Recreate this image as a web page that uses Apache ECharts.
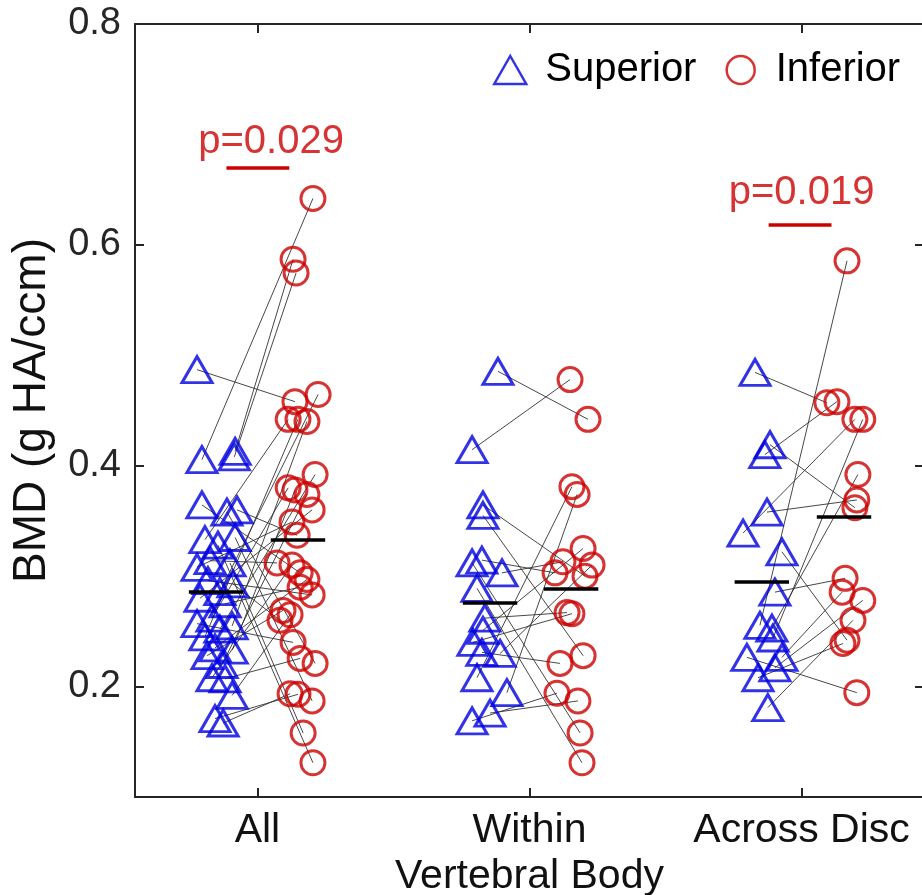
<!DOCTYPE html>
<html>
<head>
<meta charset="utf-8">
<script src="https://cdn.jsdelivr.net/npm/echarts@6/dist/echarts.min.js"></script>
<style>
  html, body { margin: 0; padding: 0; background: #fff; }
  #chart { width: 922px; height: 895px; }
</style>
</head>
<body>
<div id="chart"></div>
<script>
// category labels, group centres sit at x = 1, 2, 3
const categories = ['All', 'Within\nVertebral Body', 'Across Disc']
const yTicks = [0.2, 0.4, 0.6, 0.8]

// All: superior / inferior BMD, paired by index, with jittered x
const allSupY = [0.487, 0.413, 0.408, 0.4055, 0.3645, 0.36, 0.358, 0.335, 0.333, 0.328, 0.314, 0.312, 0.308, 0.296, 0.293, 0.286,
  0.28, 0.275, 0.262, 0.257, 0.255, 0.252, 0.245, 0.235, 0.233, 0.228, 0.22, 0.208, 0.207, 0.192, 0.171, 0.167]
const allSupX = [0.778, 0.918, 0.915, 0.796, 0.796, 0.925, 0.888, 0.918, 0.807, 0.855, 0.826, 0.899, 0.778, 0.818, 0.910, 0.862,
  0.789, 0.881, 0.833, 0.778, 0.907, 0.862, 0.807, 0.844, 0.907, 0.815, 0.870, 0.833, 0.881, 0.907, 0.844, 0.874]
const allInfY = [0.458, 0.587, 0.5745, 0.642, 0.303, 0.337, 0.221, 0.187, 0.442, 0.131, 0.312, 0.158, 0.349, 0.283, 0.26, 0.4645,
  0.36, 0.29, 0.38, 0.24, 0.44, 0.392, 0.442, 0.297, 0.378, 0.269, 0.374, 0.31, 0.2255, 0.265, 0.193, 0.1935]
const allInfX = [1.138, 1.131, 1.142, 1.204, 1.157, 1.146, 1.212, 1.201, 1.113, 1.204, 1.072, 1.168, 1.127, 1.201, 1.083, 1.223,
  1.201, 1.157, 1.113, 1.131, 1.182, 1.212, 1.149, 1.182, 1.138, 1.094, 1.182, 1.127, 1.157, 1.120, 1.149, 1.120]

// Within vertebral body
const withinSupY = [0.4855, 0.4145, 0.3645, 0.355, 0.312, 0.3145, 0.303, 0.289, 0.262, 0.251, 0.240, 0.231, 0.230, 0.208, 0.1945, 0.176, 0.169]
const withinSupX = [1.884, 1.789, 1.829, 1.829, 1.789, 1.825, 1.899, 1.807, 1.836, 1.829, 1.792, 1.825, 1.892, 1.807, 1.917, 1.855, 1.789]
const withinInfY = [0.442, 0.478, 0.300, 0.228, 0.158, 0.303, 0.313, 0.131, 0.267, 0.325, 0.266, 0.221, 0.310, 0.381, 0.374, 0.187, 0.194]
const withinInfX = [2.215, 2.149, 2.204, 2.197, 2.186, 2.094, 2.123, 2.193, 2.138, 2.197, 2.156, 2.112, 2.230, 2.156, 2.175, 2.178, 2.101]

// Across disc
const acrossSupY = [0.4845, 0.419, 0.41, 0.358, 0.339, 0.322, 0.2855, 0.2555, 0.253, 0.244, 0.2265, 0.2265, 0.217, 0.208, 0.181]
const acrossSupX = [2.829, 2.884, 2.865, 2.873, 2.785, 2.928, 2.902, 2.847, 2.891, 2.895, 2.799, 2.928, 2.902, 2.840, 2.876]
const acrossInfY = [0.457, 0.362, 0.458, 0.369, 0.442, 0.242, 0.298, 0.5855, 0.392, 0.442, 0.1945, 0.2855, 0.278, 0.239, 0.26]
const acrossInfX = [3.093, 3.196, 3.130, 3.203, 3.196, 3.167, 3.160, 3.167, 3.207, 3.225, 3.203, 3.149, 3.225, 3.152, 3.189]

// group means (black bars)
const meanSupY = [0.286, 0.2755, 0.2945]
const meanSupX = [0.848, 1.855, 2.854]
const meanInfY = [0.333, 0.289, 0.3535]
const meanInfX = [1.149, 2.153, 3.156]

// significance annotations
const pTexts = ['p=0.029', 'p=0.019']
const pTextX = [1.05, 3.0]
const pTextY = [0.693, 0.647]
const pBarX0 = [0.886, 2.879]
const pBarX1 = [1.117, 3.11]
const pBarY = [0.67, 0.618]

const BLUE = '#0000e0'
const RED = '#cc0000'
const AXIS = '#262626'
const FONT = 'Liberation Sans, Arial, Helvetica, sans-serif'

const groups = [
  [allSupX, allSupY, allInfX, allInfY],
  [withinSupX, withinSupY, withinInfX, withinInfY],
  [acrossSupX, acrossSupY, acrossInfX, acrossInfY]
]

const supPts = []
const infPts = []
const pairLines = []
groups.forEach(g => {
  g[1].forEach((v, i) => {
    supPts.push([g[0][i], v])
    infPts.push([g[2][i], g[3][i]])
    pairLines.push({ coords: [[g[0][i], v], [g[2][i], g[3][i]]] })
  })
})

const MEAN_HALF = 0.1
const meanLines = []
meanSupY.forEach((v, i) => {
  meanLines.push({ coords: [[meanSupX[i] - MEAN_HALF, v], [meanSupX[i] + MEAN_HALF, v]] })
  meanLines.push({ coords: [[meanInfX[i] - MEAN_HALF, meanInfY[i]], [meanInfX[i] + MEAN_HALF, meanInfY[i]]] })
})

const pBars = pBarY.map((y, i) => ({ coords: [[pBarX0[i], y], [pBarX1[i], y]] }))
const pLabelPts = pTexts.map((t, i) => ({ value: [pTextX[i], pTextY[i]], name: t }))

const xCommon = {
  type: 'value',
  min: 0.55,
  max: 3.45,
  splitLine: { show: false },
  axisLine: { show: true, onZero: false, lineStyle: { color: AXIS, width: 2 } },
  axisTick: { show: true, inside: true, length: 9, customValues: [1, 2, 3], lineStyle: { color: AXIS, width: 2 } }
}
const yCommon = {
  type: 'value',
  min: 0.1,
  max: 0.8,
  splitLine: { show: false },
  axisLine: { show: true, onZero: false, lineStyle: { color: AXIS, width: 2 } },
  axisTick: { show: true, inside: true, length: 9, customValues: yTicks, lineStyle: { color: AXIS, width: 2 } }
}

const chart = echarts.init(document.getElementById('chart'))
chart.setOption({
  animation: false,
  backgroundColor: '#fff',
  textStyle: { fontFamily: FONT },
  grid: { left: 135, top: 24, width: 789, bottom: 98, containLabel: false, outerBoundsMode: 'none' },
  legend: {
    data: ['Superior', 'Inferior'],
    left: 493,
    top: 50,
    padding: 0,
    itemWidth: 32,
    itemHeight: 28,
    itemGap: 29,
    itemStyle: { borderWidth: 2.5 },
    textStyle: { fontSize: 40, color: '#000', fontFamily: FONT, padding: [0, 0, 0, 14] }
  },
  xAxis: [
    Object.assign({}, xCommon, {
      position: 'bottom',
      axisLabel: {
        customValues: [1, 2, 3],
        formatter: v => categories[Math.round(v) - 1],
        fontSize: 41,
        lineHeight: 46,
        margin: 11,
        color: '#111',
        fontFamily: FONT
      }
    }),
    Object.assign({}, xCommon, { position: 'top', axisLabel: { show: false } })
  ],
  yAxis: [
    Object.assign({}, yCommon, {
      position: 'left',
      name: 'BMD (g HA/ccm)',
      nameLocation: 'middle',
      nameGap: 80,
      nameTextStyle: { fontSize: 46, color: '#111', fontFamily: FONT },
      axisLabel: {
        customValues: yTicks,
        formatter: v => v.toFixed(1),
        fontSize: 38,
        margin: 14,
        color: '#262626',
        fontFamily: FONT
      }
    }),
    Object.assign({}, yCommon, { position: 'right', axisLabel: { show: false } })
  ],
  series: [
    {
      type: 'lines',
      coordinateSystem: 'cartesian2d',
      silent: true,
      data: pairLines,
      lineStyle: { color: '#333', width: 1, opacity: 0.9 },
      z: 2
    },
    {
      name: 'Superior',
      type: 'scatter',
      symbol: 'triangle',
      symbolSize: [30, 26],
      data: supPts,
      itemStyle: { color: 'rgba(0,0,0,0)', borderColor: BLUE, borderWidth: 3 },
      z: 3
    },
    {
      name: 'Inferior',
      type: 'scatter',
      symbol: 'circle',
      symbolSize: 24,
      data: infPts,
      itemStyle: { color: 'rgba(0,0,0,0)', borderColor: RED, borderWidth: 3 },
      z: 3
    },
    {
      type: 'lines',
      coordinateSystem: 'cartesian2d',
      silent: true,
      data: meanLines,
      lineStyle: { color: '#000', width: 3.5, opacity: 1 },
      z: 4
    },
    {
      type: 'lines',
      coordinateSystem: 'cartesian2d',
      silent: true,
      data: pBars,
      lineStyle: { color: RED, width: 3.5, opacity: 1 },
      z: 4
    },
    {
      type: 'scatter',
      silent: true,
      symbolSize: 0,
      data: pLabelPts,
      label: {
        show: true,
        position: 'inside',
        formatter: p => p.name,
        fontSize: 40,
        color: RED,
        fontFamily: FONT
      },
      z: 5
    }
  ]
})
</script>
</body>
</html>
